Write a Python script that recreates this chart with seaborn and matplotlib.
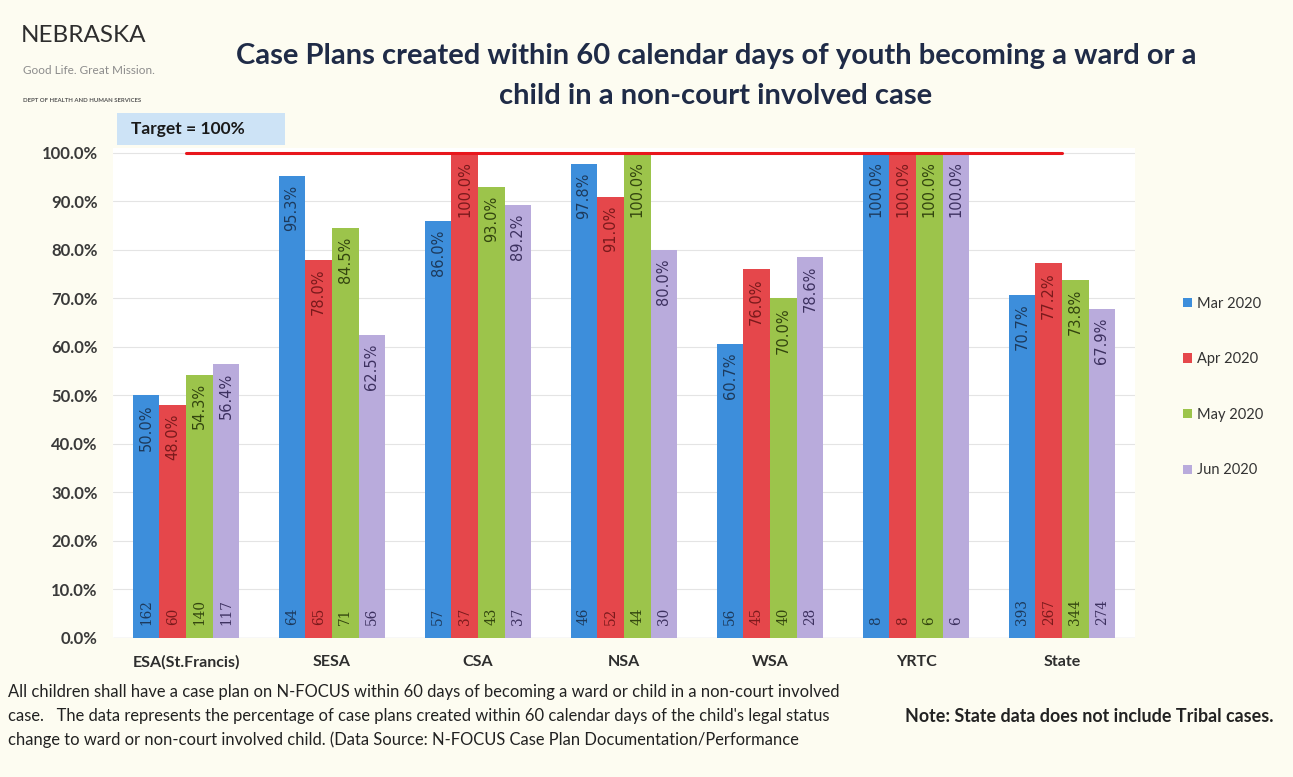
import matplotlib
matplotlib.use("Agg")
import matplotlib.pyplot as plt
import pandas as pd
import seaborn as sns
from matplotlib.patches import Rectangle

# ---------------- data ----------------
regions = ["ESA(St.Francis)", "SESA", "CSA", "NSA", "WSA", "YRTC", "State"]
months = ["Mar 2020", "Apr 2020", "May 2020", "Jun 2020"]
mar_pct = [50.0, 95.3, 86.0, 97.8, 60.7, 100.0, 70.7]
apr_pct = [48.0, 78.0, 100.0, 91.0, 76.0, 100.0, 77.2]
may_pct = [54.3, 84.5, 93.0, 100.0, 70.0, 100.0, 73.8]
jun_pct = [56.4, 62.5, 89.2, 80.0, 78.6, 100.0, 67.9]
mar_n = [162, 64, 57, 46, 56, 8, 393]
apr_n = [60, 65, 37, 52, 45, 8, 267]
may_n = [140, 71, 43, 44, 40, 6, 344]
jun_n = [117, 56, 37, 30, 28, 6, 274]
target = [100, 100, 100, 100, 100, 100, 100]
yticks = [0, 10, 20, 30, 40, 50, 60, 70, 80, 90, 100]

pcts = [mar_pct, apr_pct, may_pct, jun_pct]
counts = [mar_n, apr_n, may_n, jun_n]

rows = []
for m, p in zip(months, pcts):
    for r, v in zip(regions, p):
        rows.append({"region": r, "month": m, "pct": v})
df = pd.DataFrame(rows)

# ---------------- style ----------------
colors = ["#3d8edb", "#e5474b", "#9cc44b", "#b9abdc"]
label_colors = ["#1d3a5c", "#7a1a1c", "#33450f", "#3d3160"]
bg = "#fdfcf1"

sns.set_style("white")
plt.rcParams["font.family"] = ["Lato", "DejaVu Sans"]

W, H = 1293, 777
fig = plt.figure(figsize=(W / 100, H / 100), dpi=100, facecolor=bg)


def fx(x):
    return x / W


def fy(y):
    return 1 - y / H


ax = fig.add_axes([fx(113), fy(638), (1135 - 113) / W, (638 - 148) / H])
ax.set_facecolor("white")

sns.barplot(data=df, x="region", y="pct", hue="month", order=regions,
            hue_order=months, palette=colors, width=0.73, saturation=1,
            linewidth=0, ax=ax)

ax.set_ylim(0, 101)
ax.set_xlim(-0.5, len(regions) - 0.5)
ax.set_yticks(yticks)
ax.set_yticklabels([f"{v:.1f}%" for v in yticks], fontsize=12,
                   fontweight="bold", color="#3a3a3a")
ax.set_xticks(range(len(regions)))
ax.set_xticklabels(regions, fontsize=11.5, fontweight="bold", color="#2e2e2e")
ax.tick_params(axis="y", length=0, pad=11)
ax.tick_params(axis="x", length=0, pad=12)
ax.set_xlabel("")
ax.set_ylabel("")
for s in ax.spines.values():
    s.set_visible(False)
ax.grid(axis="y", color="#e4e4e4", lw=0.8)
ax.set_axisbelow(True)
ax.axhline(0, color="#d0d0d0", lw=0.9, zorder=0.5)

# target line
ax.plot(range(len(regions)), target, color="#e8161c", lw=2.2, zorder=1)

# value labels
for i, cont in enumerate(ax.containers):
    for j, patch in enumerate(cont.patches):
        xc = patch.get_x() + patch.get_width() / 2
        h = patch.get_height()
        ax.text(xc, h - 1.8, f"{pcts[i][j]:.1f}%", rotation=90, ha="center",
                va="top", fontsize=10.5, color=label_colors[i],
                family="DejaVu Sans", zorder=5)
        ax.text(xc, 2.6, f"{counts[i][j]}", rotation=90, ha="center",
                va="bottom", fontsize=9.8, color=label_colors[i],
                family="DejaVu Serif", zorder=5)

# legend
leg = ax.get_legend()
if leg is not None:
    leg.remove()
handles, labels = ax.get_legend_handles_labels()
hl = [(h, l) for h, l in zip(handles, labels) if l in months]
fig.legend([h for h, _ in hl], [l for _, l in hl], loc="center left",
           bbox_to_anchor=(fx(1170), fy(387)), frameon=False, fontsize=10.5,
           handlelength=0.6, handleheight=0.6, handletextpad=0.35,
           labelspacing=2.85, labelcolor="#333333")

# title
fig.text(fx(716), fy(56), "Case Plans created within 60 calendar days of youth becoming a ward or a",
         ha="center", va="center", fontsize=21, fontweight="bold", color="#1f2b47")
fig.text(fx(716), fy(96), "child in a non-court involved case",
         ha="center", va="center", fontsize=21, fontweight="bold", color="#1f2b47")

# logo
fig.text(fx(21), fy(36), "NEBRASKA", ha="left", va="center", fontsize=17.5,
         fontweight="normal", color="#2e2e2e")
fig.text(fx(23), fy(70), "Good Life. Great Mission.", ha="left", va="center",
         fontsize=8.5, color="#8c8c8c")
fig.text(fx(23), fy(100), "DEPT OF HEALTH AND HUMAN SERVICES", ha="left",
         va="center", fontsize=4.3, fontweight="bold", color="#555555")

# target box
fig.patches.append(Rectangle((fx(117), fy(145)), (285 - 117) / W, (145 - 113) / H,
                             transform=fig.transFigure, facecolor="#cde3f6",
                             edgecolor="none", zorder=0))
fig.text(fx(131), fy(129), "Target = 100%", ha="left", va="center",
         fontsize=12.5, fontweight="bold", color="#1a1a1a")

# footnotes
foot = ["All children shall have a case plan on N-FOCUS within 60 days of becoming a ward or child in a non-court involved",
        "case.   The data represents the percentage of case plans created within 60 calendar days of the child's legal status",
        "change to ward or non-court involved child. (Data Source: N-FOCUS Case Plan Documentation/Performance"]
for k, line in enumerate(foot):
    fig.text(fx(8), fy(692 + 24 * k), line, ha="left", va="center",
             fontsize=11.9, color="#222222")
fig.text(fx(905), fy(716), "Note: State data does not include Tribal cases.",
         ha="left", va="center", fontsize=12.9, fontweight="bold", color="#222222")

fig.savefig("out.png", dpi=100, facecolor=bg)
